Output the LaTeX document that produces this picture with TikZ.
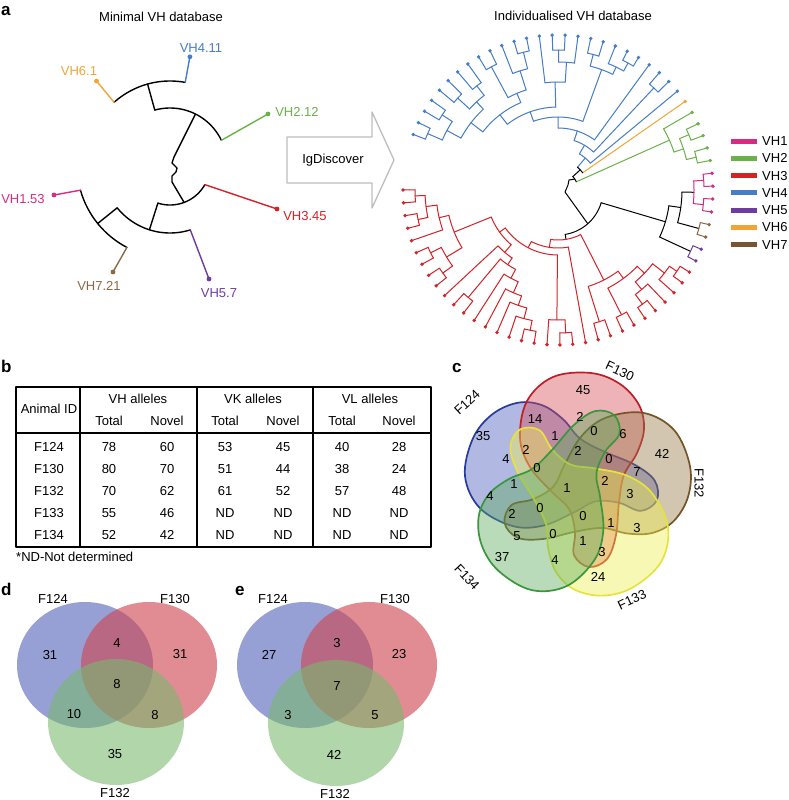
\documentclass[tikz,border=0pt]{standalone}
\usepackage{fontspec}
\setmainfont{Liberation Sans}
\definecolor{vhone}{RGB}{214,45,130}
\definecolor{vhtwo}{RGB}{106,178,72}
\definecolor{vhthree}{RGB}{210,35,40}
\definecolor{vhfour}{RGB}{70,125,200}
\definecolor{vhfive}{RGB}{110,60,160}
\definecolor{vhsix}{RGB}{240,165,55}
\definecolor{vhseven}{RGB}{120,85,50}
\definecolor{vhsevenl}{RGB}{140,105,70}
\definecolor{arrowgray}{RGB}{190,190,190}
\definecolor{fvred}{RGB}{215,75,85}
\definecolor{fvredd}{RGB}{190,30,40}
\definecolor{fvblue}{RGB}{70,90,190}
\definecolor{fvblued}{RGB}{40,60,160}
\definecolor{fvbrown}{RGB}{150,120,70}
\definecolor{fvbrownd}{RGB}{115,85,40}
\definecolor{fvyellow}{RGB}{240,240,80}
\definecolor{fvyellowd}{RGB}{228,228,60}
\definecolor{fvgreen}{RGB}{90,170,90}
\definecolor{fvgreend}{RGB}{60,150,60}
\definecolor{tvblue}{RGB}{95,110,190}
\definecolor{tvred}{RGB}{205,70,80}
\definecolor{tvgreen}{RGB}{120,185,110}
\newcommand\TRad[3]{\pgfmathsetmacro\tAng{-159+4.775*(#1)}\draw ({558+(#2)*cos(\tAng)},{190+(#2)*sin(\tAng)}) -- ({558+(#3)*cos(\tAng)},{190+(#3)*sin(\tAng)});}
\newcommand\TArc[3]{\pgfmathsetmacro\tAngA{-159+4.775*(#1)}\pgfmathsetmacro\tAngB{-159+4.775*(#2)}\draw plot[domain=\tAngA:\tAngB,samples=16] ({558+(#3)*cos(\x)},{190+(#3)*sin(\x)});}
\newcommand\TLeaf[2]{\TRad{#1}{#2}{155}\pgfmathsetmacro\tAng{-159+4.775*(#1)}\fill ({558+155*cos(\tAng)},{190+155*sin(\tAng)}) circle[radius=1.9];}
\begin{document}
\begin{tikzpicture}[x=1pt,y=-1pt,font=\fontsize{13}{15}\selectfont,line cap=round,line join=round,
  panel/.style={inner sep=0pt,anchor=base west,font=\fontsize{17}{19}\selectfont\bfseries},
  lbl/.style={inner sep=0pt},
  tbl/.style={line width=1.8}]
\useasboundingbox[fill=white] (0,0) rectangle (788,800);

% ---------- panel letters ----------
\node[panel] (pa) at (1,16) {a};
\node[panel] (pb) at (1,372) {b};
\node[panel] (pc) at (452,372) {c};
\node[panel] (pd) at (1,595) {d};
\node[panel] (pe) at (235,595) {e};

% ---------- panel a titles ----------
\node[lbl] (t1) at (161,17) {Minimal VH database};
\node[lbl] (t2) at (573,16) {Individualised VH database};

% ---------- left tree ----------
\begin{scope}[line width=1.4]
\draw plot[domain=-131.7:-79.6,samples=30] ({170+84*cos(\x)},{165+84*sin(\x)});
\draw plot[domain=-105.5:-25.7,samples=30] ({170+57*cos(\x)},{165+57*sin(\x)});
\draw (154.8,110.1) -- (147.6,84.1);
\draw plot[domain=29.4:107.6,samples=30] ({170+40*cos(\x)},{165+40*sin(\x)});
\draw plot[domain=72.6:141,samples=30] ({170+68*cos(\x)},{165+68*sin(\x)});
\draw plot[domain=117.6:164.3,samples=30] ({170+93*cos(\x)},{165+93*sin(\x)});
\draw (157.9,203.1) -- (149.4,229.8);
\draw (117.2,207.8) -- (97.7,223.5);
\draw (195.5,114.0) -- (174,157) -- (172,163) -- (177,168) -- (176,172) -- (172,176) -- (172,182) -- (184.1,202.4);
\draw[vhfour] (185.2,82.4) -- (189.9,56.8); \fill[vhfour] (189.9,56.8) circle[radius=2.4];
\draw[vhsix] (114.1,102.3) -- (96.5,81); \fill[vhsix] (96.5,81) circle[radius=2.4];
\draw[vhtwo] (221.4,140.3) -- (268,114); \fill[vhtwo] (268,114) circle[radius=2.4];
\draw[vhthree] (204.8,184.6) -- (277,209); \fill[vhthree] (277,209) circle[radius=2.4];
\draw[vhfive] (190.3,229.9) -- (209,279); \fill[vhfive] (209,279) circle[radius=2.4];
\draw[vhone] (80.5,190.2) -- (54,195); \fill[vhone] (54,195) circle[radius=2.4];
\draw[vhsevenl] (126.9,247.4) -- (113,272); \fill[vhsevenl] (113,272) circle[radius=2.4];
\end{scope}
\node[lbl,text=vhfour] (l411) at (201,48) {VH4.11};
\node[lbl,text=vhsix] (l61) at (79,71) {VH6.1};
\node[lbl,text=vhtwo] (l212) at (297,112) {VH2.12};
\node[lbl,text=vhone] (l153) at (23,199) {VH1.53};
\node[lbl,text=vhthree] (l345) at (305,216) {VH3.45};
\node[lbl,text=vhsevenl] (l721) at (99,286) {VH7.21};
\node[lbl,text=vhfive] (l57) at (219,293) {VH5.7};

% ---------- IgDiscover arrow ----------
\draw[arrowgray,line width=1.3,fill=white] (287,137) -- (372,137) -- (372,112) -- (394,160) -- (372,208) -- (372,183) -- (287,183) -- cycle;
\node[lbl] (ig) at (333,160) {IgDiscover};

% ---------- right tree ----------
\begin{scope}[line width=1.0]
\begin{scope}[color=vhfour]
\TArc{0}{1}{142}\TLeaf{0}{142}\TLeaf{1}{142}
\TArc{2}{3}{138}\TLeaf{2}{138}\TLeaf{3}{138}
\TArc{0.5}{2.5}{126}\TRad{0.5}{126}{142}\TRad{2.5}{126}{138}
\TArc{4}{5}{136}\TLeaf{4}{136}\TLeaf{5}{136}
\TArc{6}{7}{132}\TLeaf{6}{132}\TLeaf{7}{132}
\TArc{4.5}{6.5}{120}\TRad{4.5}{120}{136}\TRad{6.5}{120}{132}
\TArc{1.5}{5.5}{110}\TRad{1.5}{110}{126}\TRad{5.5}{110}{120}
\TArc{8}{9}{140}\TLeaf{8}{140}\TLeaf{9}{140}
\TArc{11}{12}{142}\TLeaf{11}{142}\TLeaf{12}{142}
\TArc{10}{11.5}{125}\TLeaf{10}{125}\TRad{11.5}{125}{142}
\TArc{8.5}{10.75}{105}\TRad{8.5}{105}{140}\TRad{10.75}{105}{125}
\TArc{3.5}{9.625}{95}\TRad{3.5}{95}{110}\TRad{9.625}{95}{105}
\TArc{14}{15}{140}\TLeaf{14}{140}\TLeaf{15}{140}
\TArc{14.5}{16}{128}\TRad{14.5}{128}{140}\TLeaf{16}{128}
\TArc{13}{15.25}{108}\TLeaf{13}{108}\TRad{15.25}{108}{128}
\TArc{6.5625}{14.125}{83}\TRad{6.5625}{83}{95}\TRad{14.125}{83}{108}
\TArc{17}{18}{140}\TLeaf{17}{140}\TLeaf{18}{140}
\TArc{20}{21}{145}\TLeaf{20}{145}\TLeaf{21}{145}
\TArc{19}{20.5}{136}\TLeaf{19}{136}\TRad{20.5}{136}{145}
\TArc{17.5}{19.75}{128}\TRad{17.5}{128}{140}\TRad{19.75}{128}{136}
\TArc{10.34375}{18.625}{73}\TRad{10.34375}{73}{83}\TRad{18.625}{73}{128}
\TArc{14.484}{22}{62}\TRad{14.484}{62}{73}\TLeaf{22}{62}
\TArc{23}{24}{140}\TLeaf{23}{140}\TLeaf{24}{140}
\TArc{18.242}{23.5}{52}\TRad{18.242}{52}{62}\TRad{23.5}{52}{140}
\TArc{20.871}{25}{42}\TRad{20.871}{42}{52}\TLeaf{25}{42}
\TRad{22.936}{30}{42}
\end{scope}
\begin{scope}[color=vhsix]
\TLeaf{26}{30}
\end{scope}
\begin{scope}[color=vhtwo]
\TArc{28}{29}{142}\TLeaf{28}{142}\TLeaf{29}{142}
\TArc{30}{31}{142}\TLeaf{30}{142}\TLeaf{31}{142}
\TArc{28.5}{30.5}{132}\TRad{28.5}{132}{142}\TRad{30.5}{132}{142}
\TArc{27}{29.5}{122}\TLeaf{27}{122}\TRad{29.5}{122}{132}
\TRad{28.25}{20}{122}
\end{scope}
% black backbone
\TArc{22.936}{26}{30}
\TArc{24.468}{28.25}{20}
\TRad{24.468}{20}{30}
\draw (574.75,179.06) -- (569,180) -- (568,185) -- (565,192) -- (587.8,223.75);
\TArc{36.75}{50.219}{45}
\TRad{50.219}{45}{50}
\TRad{36.75}{45}{112}
\TArc{35}{38.5}{112}
\TRad{35}{112}{124}\TRad{38.5}{112}{146}
\TArc{33.5}{36.5}{124}
\TRad{33.5}{124}{136}\TRad{36.5}{124}{146}
\begin{scope}[color=vhone]
\TArc{32.5}{34.5}{136}\TRad{32.5}{136}{146}\TRad{34.5}{136}{146}
\TArc{32}{33}{146}\TLeaf{32}{146}\TLeaf{33}{146}
\TArc{34}{35}{146}\TLeaf{34}{146}\TLeaf{35}{146}
\end{scope}
\begin{scope}[color=vhsevenl]
\TArc{36}{37}{146}\TLeaf{36}{146}\TLeaf{37}{146}
\end{scope}
\begin{scope}[color=vhfive]
\TArc{38}{39}{146}\TLeaf{38}{146}\TLeaf{39}{146}
\end{scope}
\begin{scope}[color=vhthree]
\TArc{40}{41}{144}\TLeaf{40}{144}\TLeaf{41}{144}
\TArc{40.5}{42}{135}\TRad{40.5}{135}{144}\TLeaf{42}{135}
\TArc{44}{45}{142}\TLeaf{44}{142}\TLeaf{45}{142}
\TArc{43}{44.5}{130}\TLeaf{43}{130}\TRad{44.5}{130}{142}
\TArc{41.25}{43.75}{120}\TRad{41.25}{120}{135}\TRad{43.75}{120}{130}
\TArc{46}{47}{140}\TLeaf{46}{140}\TLeaf{47}{140}
\TArc{42.5}{46.5}{110}\TRad{42.5}{110}{120}\TRad{46.5}{110}{140}
\TArc{48}{49}{138}\TLeaf{48}{138}\TLeaf{49}{138}
\TArc{44.5}{48.5}{101}\TRad{44.5}{101}{110}\TRad{48.5}{101}{138}
\TArc{51}{52}{143}\TLeaf{51}{143}\TLeaf{52}{143}
\TArc{51.5}{53}{130}\TRad{51.5}{130}{143}\TLeaf{53}{130}
\TArc{54}{55}{143}\TLeaf{54}{143}\TLeaf{55}{143}
\TArc{54.5}{56}{133}\TRad{54.5}{133}{143}\TLeaf{56}{133}
\TArc{55.25}{57}{122}\TRad{55.25}{122}{133}\TLeaf{57}{122}
\TArc{56.125}{58}{112}\TRad{56.125}{112}{122}\TLeaf{58}{112}
\TArc{57.0625}{59}{100}\TRad{57.0625}{100}{112}\TLeaf{59}{100}
\TArc{60}{61}{140}\TLeaf{60}{140}\TLeaf{61}{140}
\TArc{58.03125}{60.5}{90}\TRad{58.03125}{90}{100}\TRad{60.5}{90}{140}
\TArc{59.2656}{62}{82}\TRad{59.2656}{82}{90}\TLeaf{62}{82}
\TArc{63}{64}{142}\TLeaf{63}{142}\TLeaf{64}{142}
\TArc{65}{66}{142}\TLeaf{65}{142}\TLeaf{66}{142}
\TArc{63.5}{65.5}{130}\TRad{63.5}{130}{142}\TRad{65.5}{130}{142}
\TArc{68}{69}{143}\TLeaf{68}{143}\TLeaf{69}{143}
\TArc{70}{71}{143}\TLeaf{70}{143}\TLeaf{71}{143}
\TArc{68.5}{70.5}{133}\TRad{68.5}{133}{143}\TRad{70.5}{133}{143}
\TArc{67}{69.5}{122}\TLeaf{67}{122}\TRad{69.5}{122}{133}
\TArc{64.5}{68.25}{112}\TRad{64.5}{112}{130}\TRad{68.25}{112}{122}
\TArc{60.6328}{66.375}{72}\TRad{60.6328}{72}{82}\TRad{66.375}{72}{112}
\TArc{52.25}{63.504}{65}\TRad{52.25}{65}{130}\TRad{63.504}{65}{72}
\TArc{50}{57.877}{58}\TLeaf{50}{58}\TRad{57.877}{58}{65}
\TArc{46.5}{53.9385}{50}\TRad{46.5}{50}{101}\TRad{53.9385}{50}{58}
\end{scope}
\end{scope}

% ---------- legend ----------
\foreach \c/\t [count=\i from 0] in {vhone/VH1,vhtwo/VH2,vhthree/VH3,vhfour/VH4,vhfive/VH5,vhsix/VH6,vhseven/VH7}{
  \draw[\c,line width=5,line cap=butt] (731,{141+17.3*\i}) -- (757,{141+17.3*\i});
  \node[lbl,anchor=west] (leg\i) at (762,{141+17.3*\i}) {\t};
}

% ---------- panel b table ----------
\draw[tbl] (16,387) rectangle (431,547);
\draw[tbl] (80,387) -- (80,547) (197,387) -- (197,547) (313,387) -- (313,547);
\draw[tbl] (16,433) -- (431,433);
\node[lbl] (hid) at (49,409) {Animal ID};
\node[lbl] (hvh) at (138,399) {VH alleles};
\node[lbl] (hvk) at (253,399) {VK alleles};
\node[lbl] (hvl) at (370,399) {VL alleles};
\foreach \x/\n in {109/a,225/b,342/c}{\node[lbl] (tot\n) at (\x,421) {Total};}
\foreach \x/\n in {167/a,283/b,399/c}{\node[lbl] (nov\n) at (\x,421) {Novel};}
\foreach \y/\a/\b/\c/\d/\e/\f/\g in {447/F124/78/60/53/45/40/28,469/F130/80/70/51/44/38/24,491/F132/70/62/61/52/57/48,513/F133/55/46/ND/ND/ND/ND,535/F134/52/42/ND/ND/ND/ND}{
  \node[lbl] (r\y a) at (49,\y) {\a};
  \node[lbl] (r\y b) at (109,\y) {\b};
  \node[lbl] (r\y c) at (167,\y) {\c};
  \node[lbl] (r\y d) at (225,\y) {\d};
  \node[lbl] (r\y e) at (283,\y) {\e};
  \node[lbl] (r\y f) at (342,\y) {\f};
  \node[lbl] (r\y g) at (399,\y) {\g};
}
\node[lbl,anchor=west] (fn) at (16,557) {*ND-Not determined};

% ---------- panel c five-set Venn ----------
\foreach \r/\fc/\dc in {72/fvblue/fvblued,0/fvred/fvredd,-72/fvbrown/fvbrownd,-144/fvyellow/fvyellowd,144/fvgreen/fvgreend}{
  \begin{scope}[shift={(577,487)},rotate=\r]
  \draw[\dc,line width=1.7,fill=\fc,fill opacity=0.42] plot[smooth cycle,tension=0.6] coordinates {(-24,-110) (14,-114) (43,-103) (62,-82) (67,-58) (60,-34) (47,-12) (42,15) (39,48) (30,72) (12,80) (-3,68) (-2,45) (-8,22) (-25,5) (-47,-20) (-57,-49) (-50,-86)};
  \end{scope}
}
\foreach \x/\y/\t [count=\i] in {583/390/45,535/419/14,483/436/35,580/417/2,594/431/0,623/434/6,555/436/1,526/450/2,578/451/2,609/459/0,662/454/42,506/459/4,537/468/0,637/472/7,514/484/1,567/488/1,605/481/2,630/494/3,490/496/4,540/508/0,583/516/0,512/514/2,611/523/1,637/528/3,517/536/5,553/534/0,583/541/1,502/557/37,555/560/4,602/552/3,598/577/24}{
  \node[lbl] (v\i) at (\x,\y) {\t};
}
\node[lbl,rotate=-25] (c130) at (620,371) {F130};
\node[lbl,rotate=-90] (c132) at (699,483) {F132};
\node[lbl,rotate=25] (c133) at (632,600) {F133};
\node[lbl,rotate=-47] (c134) at (467,577) {F134};
\node[lbl,rotate=43] (c124) at (467,402) {F124};

% ---------- panel d ----------
\fill[tvblue,fill opacity=0.65] (85,665) ellipse[x radius=68,y radius=63];
\fill[tvred,fill opacity=0.62] (149,665) ellipse[x radius=68,y radius=63];
\fill[tvgreen,fill opacity=0.58] (116,722) ellipse[x radius=68,y radius=63];
\node[lbl] (d124) at (53,599) {F124};
\node[lbl] (d130) at (175,599) {F130};
\node[lbl] (d132) at (115,793) {F132};
\node[lbl] (d1) at (50,655) {31};
\node[lbl] (d2) at (117,643) {4};
\node[lbl] (d3) at (180,654) {31};
\node[lbl] (d4) at (117,684) {8};
\node[lbl] (d5) at (74,714) {10};
\node[lbl] (d6) at (155,715) {8};
\node[lbl] (d7) at (115,754) {35};

% ---------- panel e ----------
\fill[tvblue,fill opacity=0.65] (305,665) ellipse[x radius=68,y radius=63];
\fill[tvred,fill opacity=0.62] (369,665) ellipse[x radius=68,y radius=63];
\fill[tvgreen,fill opacity=0.58] (336,723) ellipse[x radius=68,y radius=63];
\node[lbl] (e124) at (273,599) {F124};
\node[lbl] (e130) at (395,599) {F130};
\node[lbl] (e132) at (335,794) {F132};
\node[lbl] (e1) at (269,655) {27};
\node[lbl] (e2) at (337,643) {3};
\node[lbl] (e3) at (399,654) {23};
\node[lbl] (e4) at (337,686) {7};
\node[lbl] (e5) at (288,715) {3};
\node[lbl] (e6) at (375,715) {5};
\node[lbl] (e7) at (334,755) {42};
\end{tikzpicture}
\end{document}
